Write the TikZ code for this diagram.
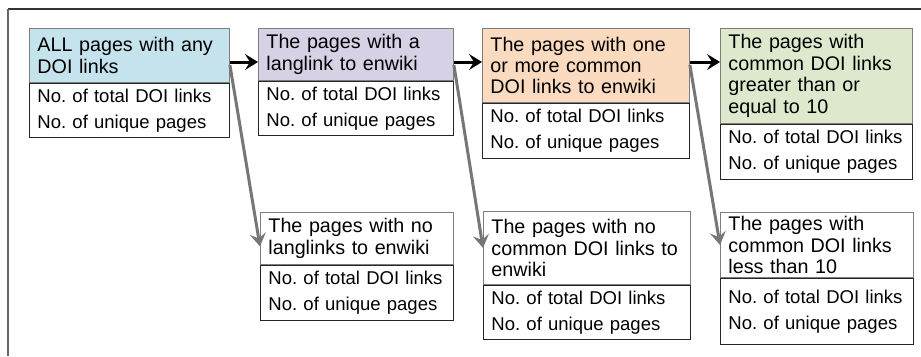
\documentclass[tikz,border=0pt]{standalone}
\usepackage{fontspec}
\setmainfont{Liberation Sans}
\usetikzlibrary{arrows.meta}
\frenchspacing

\definecolor{hdblue}{RGB}{197,227,236}
\definecolor{hdpurple}{RGB}{216,208,228}
\definecolor{hdorange}{RGB}{250,219,192}
\definecolor{hdgreen}{RGB}{222,232,204}
\definecolor{edgegray}{RGB}{125,125,125}
\definecolor{arrowgray}{RGB}{118,118,118}

\tikzset{
  hd/.style={draw=edgegray, line width=0.9bp, inner xsep=8bp, inner ysep=0pt,
    anchor=north west, align=left, font=\fontsize{19.8}{21.5}\selectfont\frenchspacing},
  bd/.style={draw=black!85, line width=0.9bp, fill=white, inner xsep=8bp, inner ysep=0pt,
    anchor=north west, align=left, minimum height=54bp, font=\fontsize{18.6}{26}\selectfont\frenchspacing},
  fwd/.style={line width=3bp, -{Stealth[length=13bp,width=16bp,inset=5bp]}},
  side/.style={draw=arrowgray, line width=3bp, -{Stealth[length=13bp,width=16bp,inset=5bp]}}
}

\begin{document}
\begin{tikzpicture}[x=1bp,y=1bp]
    \useasboundingbox (0,0) rectangle (921,-356);
    \draw[black!80, line width=1.3bp] (921,-9) -- (8,-9);
    \draw[black!60, line width=2bp] (8,-9) -- (8,-356);
    \coordinate (mainrow) at (0,-62);
    \coordinate (siderow) at (0,-65);

    % top row
    \node[hd, fill=hdblue, text width=184bp, minimum height=54bp] (allhd) at (29,-28)
      {ALL pages with any\\DOI links};
    \node[bd, text width=184bp] (allbd) at (allhd.south west)
      {No. of total DOI links\\No. of unique pages};
    \node[hd, fill=hdpurple, text width=179bp, minimum height=52bp] (langhd) at (258,-28)
      {The pages with a\\langlink to enwiki};
    \node[bd, text width=179bp] (langbd) at (langhd.south west)
      {No. of total DOI links\\No. of unique pages};
    \node[hd, fill=hdorange, text width=191bp, minimum height=74bp] (commonhd) at (482,-28)
      {The pages with one\\or more common\\DOI links to enwiki};
    \node[bd, text width=191bp, minimum height=55bp] (commonbd) at (commonhd.south west)
      {No. of total DOI links\\No. of unique pages};
    \node[hd, fill=hdgreen, text width=176bp, minimum height=95bp] (gehd) at (720,-28)
      {The pages with\\common DOI links\\greater than or\\equal to 10};
    \node[bd, text width=176bp, minimum height=55bp] (gebd) at (gehd.south west)
      {No. of total DOI links\\No. of unique pages};

    % bottom row
    \node[hd, fill=white, text width=177bp, minimum height=52bp] (nolanghd) at (260,-212)
      {The pages with no\\langlinks to enwiki};
    \node[bd, text width=177bp, minimum height=55bp] (nolangbd) at (nolanghd.south west)
      {No. of total DOI links\\No. of unique pages};
    \node[hd, fill=white, text width=191bp, minimum height=73bp] (nocommonhd) at (483,-211)
      {The pages with no\\common DOI links to\\enwiki};
    \node[bd, text width=191bp] (nocommonbd) at (nocommonhd.south west)
      {No. of total DOI links\\No. of unique pages};
    \node[hd, fill=white, text width=177bp, minimum height=65bp] (lthd) at (720,-212)
      {The pages with\\common DOI links\\less than 10};
    \node[bd, text width=177bp, minimum height=66bp] (ltbd) at (lthd.south west)
      {No. of total DOI links\\No. of unique pages};

    \draw[fwd] (allhd.east |- mainrow) -- (langhd.west |- mainrow);
    \draw[fwd] (langhd.east |- mainrow) -- (commonhd.west |- mainrow);
    \draw[fwd] (commonhd.east |- mainrow) -- (gehd.west |- mainrow);
    \draw[side] (allhd.east |- siderow) -- ([yshift=-8bp]nolanghd.west);
    \draw[side] (langhd.east |- siderow) -- (nocommonhd.west);
    \draw[side] (commonhd.east |- siderow) -- (lthd.west);
\end{tikzpicture}
\end{document}
